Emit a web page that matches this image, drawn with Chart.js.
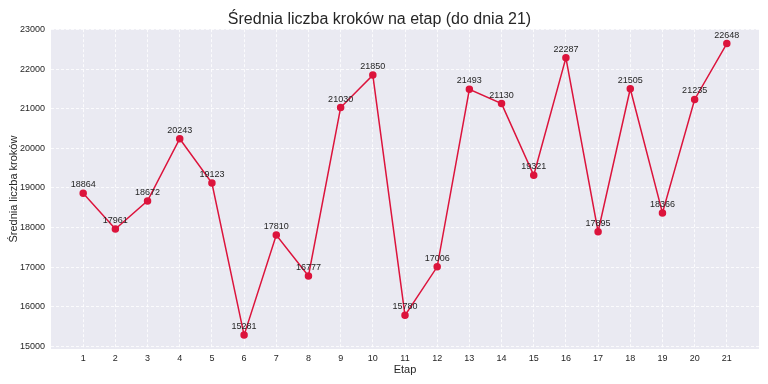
<!DOCTYPE html>
<html>
<head>
<meta charset="utf-8">
<script src="https://cdn.jsdelivr.net/npm/chart.js@4"></script>
<style>
  html, body { margin: 0; padding: 0; background: #fff; }
  #wrap { width: 768px; height: 384px; }
</style>
</head>
<body>
<div id="wrap"><canvas id="stepsChart"></canvas></div>
<script>
// data
const etapy = [1, 2, 3, 4, 5, 6, 7, 8, 9, 10, 11, 12, 13, 14, 15, 16, 17, 18, 19, 20, 21];
const srednieKroki = [18864, 17961, 18672, 20243, 19123, 15281, 17810, 16777, 21030, 21850,
                      15780, 17006, 21493, 21130, 19321, 22287, 17895, 21505, 18366, 21235, 22648];
const yTicks = [15000, 16000, 17000, 18000, 19000, 20000, 21000, 22000, 23000];

const FONT = "'Liberation Sans', Arial, sans-serif";

// matplotlib-like grey plot background
const plotBackground = {
    id: 'plotBackground',
    beforeDraw(chart) {
        const { ctx, chartArea: a } = chart;
        ctx.save();
        ctx.fillStyle = '#eaeaf2';
        ctx.fillRect(a.left, a.top, a.right - a.left, a.bottom - a.top);
        ctx.restore();
    }
};

// value labels above each point
const valueLabels = {
    id: 'valueLabels',
    afterDatasetsDraw(chart) {
        const { ctx } = chart;
        const meta = chart.getDatasetMeta(0);
        ctx.save();
        ctx.font = '9px ' + FONT;
        ctx.fillStyle = '#262626';
        ctx.textAlign = 'center';
        ctx.textBaseline = 'bottom';
        meta.data.forEach((pt, i) => {
            ctx.fillText(String(srednieKroki[i]), pt.x, pt.y - 4);
        });
        ctx.restore();
    }
};

const ctx = document.getElementById('stepsChart').getContext('2d');
new Chart(ctx, {
    type: 'line',
    data: {
        datasets: [{
            label: 'Średnia liczba kroków',
            data: etapy.map((e, i) => ({ x: e, y: srednieKroki[i] })),
            borderColor: '#dc143c',
            backgroundColor: '#dc143c',
            borderWidth: 1.5,
            pointRadius: 3,
            pointHoverRadius: 3,
            tension: 0
        }]
    },
    options: {
        responsive: true,
        maintainAspectRatio: false,
        animation: false,
        layout: { padding: { left: 0, right: 9, top: 0, bottom: 0 } },
        plugins: {
            legend: { display: false },
            tooltip: { enabled: false },
            title: {
                display: true,
                text: 'Średnia liczba kroków na etap (do dnia 21)',
                color: '#262626',
                font: { family: FONT, size: 16, weight: 'normal' },
                padding: { top: 10, bottom: 0 }
            }
        },
        scales: {
            x: {
                type: 'linear',
                min: 0,
                max: 22,
                afterBuildTicks: axis => { axis.ticks = etapy.map(v => ({ value: v })); },
                afterFit: axis => { axis.height = 35; },
                grid: { color: '#ffffff', lineWidth: 0.8, drawTicks: false },
                border: { display: false, dash: [3, 2] },
                ticks: {
                    color: '#262626',
                    font: { family: FONT, size: 9 },
                    padding: 4,
                    maxRotation: 0,
                    autoSkip: false,
                    callback: v => String(v)
                },
                title: {
                    display: true,
                    text: 'Etap',
                    color: '#262626',
                    font: { family: FONT, size: 11 },
                    padding: { top: 0, bottom: 7 }
                }
            },
            y: {
                min: 14930,
                max: 23010,
                afterBuildTicks: axis => { axis.ticks = yTicks.map(v => ({ value: v })); },
                afterFit: axis => { axis.width = 51; },
                grid: { color: '#ffffff', lineWidth: 0.8, drawTicks: false },
                border: { display: false, dash: [3, 2] },
                ticks: {
                    color: '#262626',
                    font: { family: FONT, size: 9 },
                    padding: 6,
                    callback: v => String(v)
                },
                title: {
                    display: true,
                    text: 'Średnia liczba kroków',
                    color: '#262626',
                    font: { family: FONT, size: 11 },
                    padding: { top: 7, bottom: 0 }
                }
            }
        }
    },
    plugins: [plotBackground, valueLabels]
});
</script>
</body>
</html>
